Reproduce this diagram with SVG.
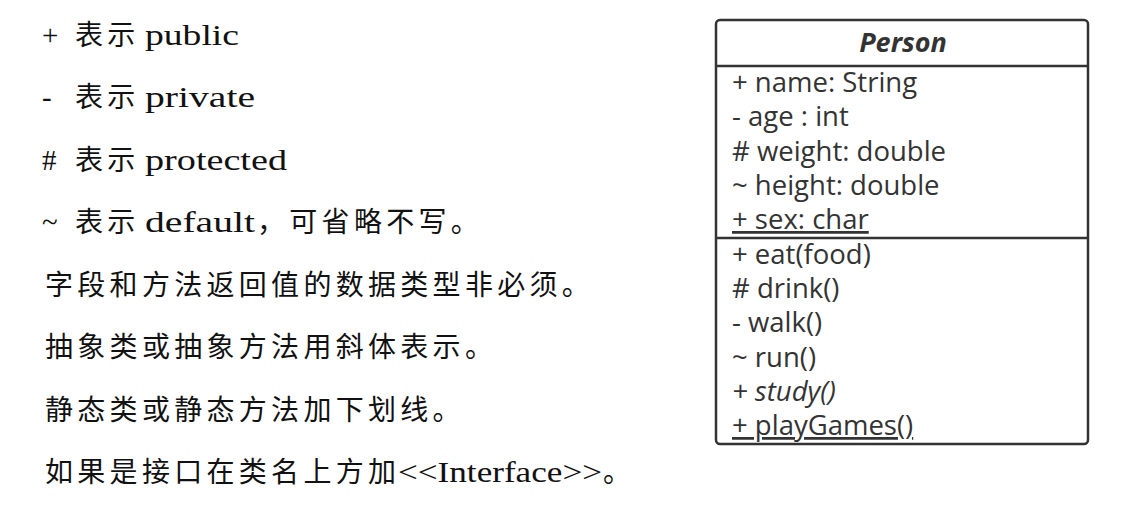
<svg xmlns="http://www.w3.org/2000/svg" width="1140" height="509" viewBox="0 0 1140 509">
<style>
.cjk{font-family:"Noto Sans CJK SC","Liberation Serif",serif;font-size:28px;fill:#111;letter-spacing:4.3px}
.lat{font-family:"Liberation Serif","Noto Sans CJK SC",serif;font-size:29px;fill:#111}
.uml{font-family:"Open Sans","Noto Sans",sans-serif;font-size:27.5px;fill:#333}
.title{font-family:"Open Sans","Noto Sans",sans-serif;font-size:27px;font-weight:bold;font-style:italic;fill:#333}
.box{fill:#fff;stroke:#333;stroke-width:2.5}
.sep{stroke:#333;stroke-width:2.5}
</style>
<rect width="1140" height="509" fill="#fff"/>
<g id="legend">
<text class="lat" x="42" y="45">+</text><text class="cjk" x="75" y="45">表示</text><text class="lat" x="145" y="45" textLength="94" lengthAdjust="spacingAndGlyphs">public</text>
<text class="lat" x="42" y="107">-</text><text class="cjk" x="75" y="107">表示</text><text class="lat" x="145" y="107" textLength="110" lengthAdjust="spacingAndGlyphs">private</text>
<text class="lat" x="42" y="170">#</text><text class="cjk" x="75" y="170">表示</text><text class="lat" x="145" y="170" textLength="142" lengthAdjust="spacingAndGlyphs">protected</text>
<text class="lat" x="42" y="232">~</text><text class="cjk" x="75" y="232">表示</text><text class="lat" x="145" y="232" textLength="110" lengthAdjust="spacingAndGlyphs">default</text><text class="cjk" x="257" y="232">，可省略不写。</text>
<text class="cjk" x="45" y="295">字段和方法返回值的数据类型非必须。</text>
<text class="cjk" x="45" y="357">抽象类或抽象方法用斜体表示。</text>
<text class="cjk" x="45" y="420">静态类或静态方法加下划线。</text>
<text class="cjk" x="45" y="482">如果是接口在类名上方加</text><text class="lat" x="398" y="482" textLength="204" lengthAdjust="spacingAndGlyphs">&lt;&lt;Interface&gt;&gt;</text><text class="cjk" x="603" y="482">。</text>
</g>
<g id="person">
<rect class="box" x="716" y="20" width="372" height="424" rx="4"/>
<line class="sep" x1="716" y1="66" x2="1088" y2="66"/>
<line class="sep" x1="716" y1="238" x2="1088" y2="238"/>
<text class="title" x="903" y="52" text-anchor="middle">Person</text>
<text class="uml" x="732" y="92">+ name: String</text>
<text class="uml" x="732" y="126">- age : int</text>
<text class="uml" x="732" y="161"># weight: double</text>
<text class="uml" x="732" y="195">~ height: double</text>
<text class="uml" x="732" y="229" text-decoration="underline">+ sex: char</text>
<text class="uml" x="732" y="264">+ eat(food)</text>
<text class="uml" x="732" y="298"># drink()</text>
<text class="uml" x="732" y="332">- walk()</text>
<text class="uml" x="732" y="367">~ run()</text>
<text class="uml" x="732" y="401" font-style="italic">+ study()</text>
<text class="uml" x="732" y="435" text-decoration="underline">+ playGames()</text>
</g>
<g id="connectors"/>
</svg>
